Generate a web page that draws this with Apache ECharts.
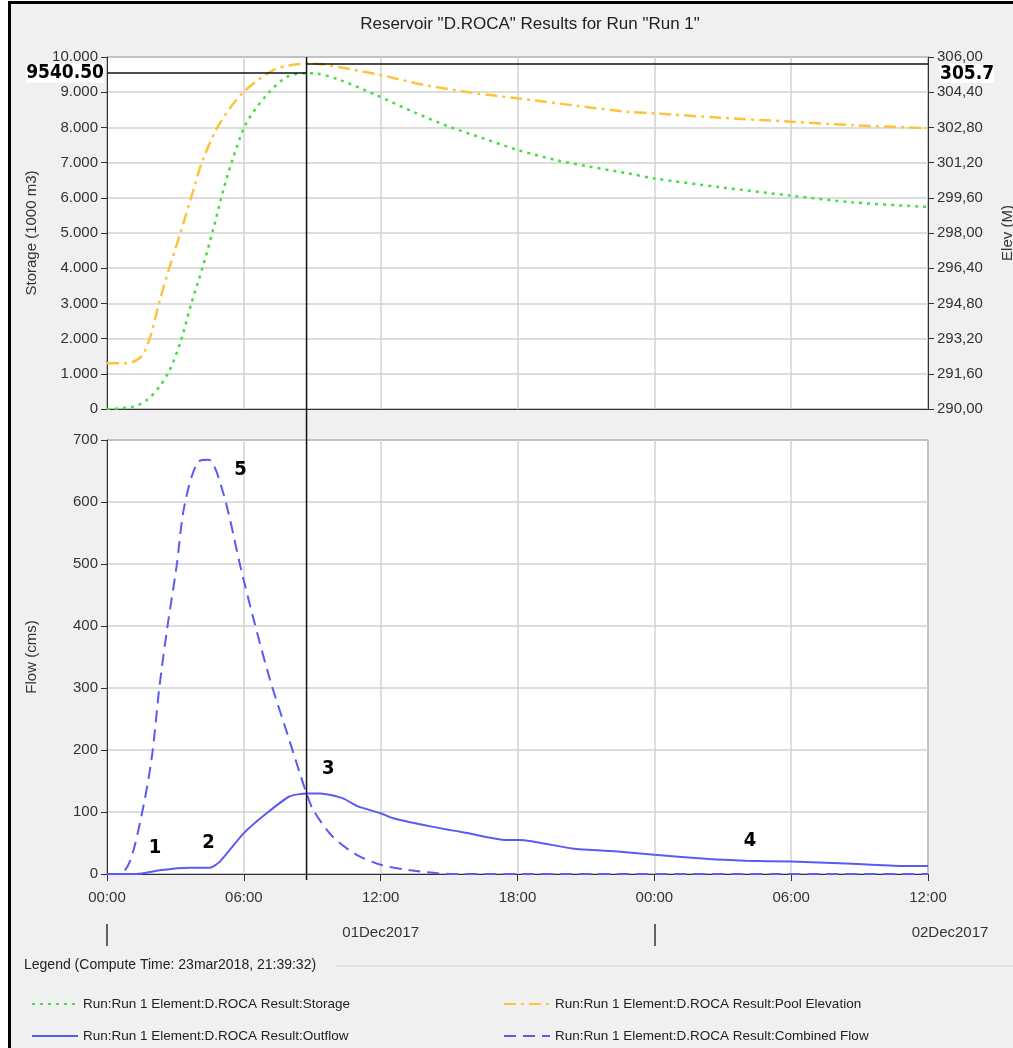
<!DOCTYPE html>
<html>
<head>
<meta charset="utf-8" />
<title>Reservoir D.ROCA</title>
<style>
  body { margin: 0; background: #fff; }
  #frame {
    position: absolute; left: 8px; top: 1px; width: 1005px; height: 1047px;
    border-left: 3px solid #000; border-top: 3px solid #000;
    background: #f0f0f0; box-sizing: border-box;
  }
  #chartBox { position: absolute; left: 0; top: 0; width: 1013px; height: 1048px; }
</style>
</head>
<body>
<div id="frame"></div>
<div id="chartBox"></div>
<script src="https://cdn.jsdelivr.net/npm/echarts@6/dist/echarts.min.js"></script>
<script>
// hours since 01Dec2017 00:00
var storageHours = [0, 1.15, 1.75, 2.3, 2.75, 3.25, 3.7, 4.2, 4.65, 5.1, 5.55, 6.1, 7.0, 7.9, 8.75, 9.2, 10.2, 11.8, 13.4, 15.0, 16.5, 18.0, 19.7, 21.2, 22.8, 24.0, 26.9, 30.0, 32.7, 36.0];
var storageVals  = [0, 65, 256, 634, 1108, 1960, 3000, 4040, 5085, 6220, 7170, 8110, 8920, 9440, 9540.5, 9530, 9350, 8920, 8450, 8020, 7690, 7360, 7070, 6880, 6700, 6550, 6300, 6060, 5870, 5740];

var elevHours = [0, 0.85, 1.5, 1.9, 2.3, 2.75, 3.25, 3.7, 4.2, 4.95, 6.0, 7.3, 8.0, 8.75, 9.5, 12.0, 13.9, 16.0, 18.0, 19.7, 22.8, 24.0, 26.9, 30.0, 32.7, 36.0];
var elevVals  = [292.08, 292.08, 292.38, 293.29, 294.88, 296.47, 298.1, 299.65, 301.32, 302.99, 304.42, 305.41, 305.62, 305.7, 305.66, 305.18, 304.73, 304.38, 304.12, 303.9, 303.51, 303.44, 303.24, 303.06, 302.9, 302.76];

var outHours = [0, 1.3, 2.3, 3.6, 4.5, 4.95, 6.0, 7.0, 8.0, 8.75, 9.35, 10.35, 11.0, 12.0, 12.55, 14.3, 15.8, 17.5, 18.1, 20.4, 22.5, 24.0, 26.4, 28.0, 30.0, 32.4, 34.9, 36.0];
var outVals  = [0, 0, 6, 10, 10, 20, 66, 98, 125, 130, 130, 122, 109, 98, 90, 76, 66, 55, 55, 41, 36, 31, 24, 21.5, 20, 17, 13, 13];

var inHours = [0, 0.55, 1.0, 1.5, 1.95, 2.3, 2.65, 3.05, 3.4, 4.0, 4.45, 5.1, 5.85, 6.4, 7.15, 7.9, 8.45, 8.75, 9.05, 9.9, 10.95, 12.0, 13.3, 15.2, 36.0];
var inVals  = [0, 0, 20, 92, 184, 302, 399, 496, 595, 665, 668, 614, 496, 415, 313, 227, 163, 130, 103, 60, 31, 15, 6, 0, 0];

// cursor readout
var crossHour = 8.75;
var crossStorage = 9540.5;
var crossElev = 305.7;

// numbered notes on the flow plot
var noteText  = ['1', '2', '3', '4', '5'];
var noteHours = [2.1, 4.45, 9.7, 28.2, 5.85];
var noteFlows = [42, 51, 169, 53, 652];

var dayTicks = [0, 24];
var dayLabelHours = [12, 36];
var dayLabels = ['01Dec2017', '02Dec2017'];

var seriesNames = [
  'Run:Run 1 Element:D.ROCA Result:Storage',
  'Run:Run 1 Element:D.ROCA Result:Pool Elevation',
  'Run:Run 1 Element:D.ROCA Result:Outflow',
  'Run:Run 1 Element:D.ROCA Result:Combined Flow'
];

var FONT = "'Liberation Sans', Arial, sans-serif";
var NARROW = "'Liberation Sans Narrow', 'DejaVu Sans Condensed', sans-serif";

function pairs(xs, ys) {
  var out = [];
  for (var i = 0; i < xs.length; i++) out.push([xs[i], ys[i]]);
  return out;
}
function hhmm(v) {
  var h = v % 24;
  return (h < 10 ? '0' : '') + h + ':00';
}

var axisText = { color: '#333', fontSize: 15, fontFamily: FONT };
var gridLine = { show: true, lineStyle: { color: '#d2d2d2', width: 1.5 } };
var darkLine = { show: true, lineStyle: { color: '#333', width: 1 } };

var notes = [];
for (var i = 0; i < noteText.length; i++) {
  notes.push({ coord: [noteHours[i], noteFlows[i]], value: noteText[i] });
}

var myChart = echarts.init(document.getElementById('chartBox'));
var option = {
  animation: false,
  title: {
    text: 'Reservoir "D.ROCA" Results for Run "Run 1"',
    left: 525, top: 11, textAlign: 'center',
    textStyle: { fontFamily: FONT, fontSize: 17, fontWeight: 'normal', color: '#222' }
  },
  grid: [
    { left: 107, right: 85, top: 57, height: 352, show: true, backgroundColor: '#fff',
      borderColor: '#333', borderWidth: 1, outerBoundsMode: 'none', containLabel: false },
    { left: 107, right: 85, top: 440, height: 434, show: true, backgroundColor: '#fff',
      borderColor: '#333', borderWidth: 1, outerBoundsMode: 'none', containLabel: false }
  ],
  xAxis: [
    { type: 'value', gridIndex: 0, min: 0, max: 36, interval: 6,
      axisLine: darkLine, axisTick: { show: false }, axisLabel: { show: false }, splitLine: gridLine },
    { type: 'value', gridIndex: 1, min: 0, max: 36, interval: 6,
      axisLine: darkLine, axisTick: { show: true, length: 7, lineStyle: { color: '#333' } },
      axisLabel: Object.assign({ margin: 16, formatter: hhmm }, axisText), splitLine: gridLine },
    { type: 'value', gridIndex: 1, min: 0, max: 36, position: 'bottom', offset: 50,
      axisLine: { show: false }, splitLine: { show: false },
      axisTick: { show: true, customValues: dayTicks, length: 22, lineStyle: { color: '#333', width: 1.5 } },
      axisLabel: Object.assign({
        margin: 1, customValues: dayLabelHours,
        formatter: function (v) {
          var s = dayLabels[dayLabelHours.indexOf(v)];
          return v === 36 ? '{r|' + s + '}' : s;
        },
        rich: { r: { padding: [0, 0, 0, 44], color: '#333', fontSize: 15, fontFamily: FONT } }
      }, axisText) }
  ],
  yAxis: [
    { type: 'value', gridIndex: 0, min: 0, max: 10000, interval: 1000,
      name: 'Storage (1000 m3)', nameLocation: 'middle', nameGap: 68,
      nameTextStyle: { color: '#333', fontSize: 15, fontFamily: FONT },
      axisLine: darkLine, axisTick: { show: true, length: 6, lineStyle: { color: '#333' } },
      axisLabel: Object.assign({ margin: 9, formatter: function (v) {
        return v >= 1000 ? Math.floor(v / 1000) + '.000' : String(v);
      } }, axisText),
      splitLine: gridLine },
    { type: 'value', gridIndex: 0, min: 290, max: 306, interval: 1.6, position: 'right',
      name: 'Elev (M)', nameLocation: 'middle', nameGap: 72, nameRotate: 90,
      nameTextStyle: { color: '#333', fontSize: 15, fontFamily: FONT },
      axisLine: darkLine, axisTick: { show: true, length: 6, lineStyle: { color: '#333' } },
      axisLabel: Object.assign({ margin: 9, formatter: function (v) {
        return v.toFixed(2).replace('.', ',');
      } }, axisText),
      splitLine: { show: false } },
    { type: 'value', gridIndex: 1, min: 0, max: 700, interval: 100,
      name: 'Flow (cms)', nameLocation: 'middle', nameGap: 68,
      nameTextStyle: { color: '#333', fontSize: 15, fontFamily: FONT },
      axisLine: darkLine, axisTick: { show: true, length: 6, lineStyle: { color: '#333' } },
      axisLabel: Object.assign({ margin: 9 }, axisText),
      splitLine: gridLine }
  ],
  legend: [
    { orient: 'vertical', left: 26, top: 992, itemWidth: 46, itemHeight: 14, itemGap: 18,
      itemStyle: { opacity: 0 },
      data: [seriesNames[0], seriesNames[2]],
      textStyle: { color: '#222', fontSize: 13.5, fontFamily: FONT } },
    { orient: 'vertical', left: 498, top: 992, itemWidth: 46, itemHeight: 14, itemGap: 18,
      itemStyle: { opacity: 0 },
      data: [seriesNames[1], seriesNames[3]],
      textStyle: { color: '#222', fontSize: 13.5, fontFamily: FONT } }
  ],
  graphic: [
    { type: 'text', left: 24, top: 958,
      style: { text: 'Legend (Compute Time: 23mar2018, 21:39:32)', fill: '#222', font: '14px ' + FONT } },
    { type: 'line', shape: { x1: 335, y1: 966, x2: 1013, y2: 966 },
      style: { stroke: '#d6d6d6', lineWidth: 1 } }
  ],
  series: [
    { name: seriesNames[0], type: 'line', xAxisIndex: 0, yAxisIndex: 0, symbol: 'none',
      data: pairs(storageHours, storageVals), smooth: 0.3,
      lineStyle: { color: '#44dd44', width: 2.5, type: [3, 5] }, itemStyle: { color: '#44dd44' },
      markLine: { silent: true, symbol: ['none', 'none'],
        lineStyle: { color: '#111', width: 1.5, type: 'solid' },
        label: { show: true, position: 'start', formatter: '9540.50', color: '#000',
          fontSize: 19, fontWeight: 'bold', fontFamily: NARROW, backgroundColor: '#fff', distance: 3 },
        data: [[{ coord: [0, crossStorage] }, { coord: [crossHour, crossStorage] }]] } },
    { name: seriesNames[1], type: 'line', xAxisIndex: 0, yAxisIndex: 1, symbol: 'none',
      data: pairs(elevHours, elevVals), smooth: 0.3,
      lineStyle: { color: '#fcc43c', width: 2.5, type: [12, 5, 3, 5] }, itemStyle: { color: '#fcc43c' },
      markLine: { silent: true, symbol: ['none', 'none'],
        lineStyle: { color: '#111', width: 1.5, type: 'solid' },
        label: { show: true, position: 'end', formatter: '305.7', color: '#000',
          fontSize: 19, fontWeight: 'bold', fontFamily: NARROW, backgroundColor: '#fff', distance: 12, offset: [0, 10] },
        data: [[{ coord: [crossHour, crossElev] }, { coord: [36, crossElev] }]] } },
    { name: seriesNames[2], type: 'line', xAxisIndex: 1, yAxisIndex: 2, symbol: 'none',
      data: pairs(outHours, outVals), smooth: 0.2,
      lineStyle: { color: '#5a5af5', width: 2, type: 'solid' }, itemStyle: { color: '#5a5af5' },
      markPoint: { symbol: 'circle', symbolSize: 1, itemStyle: { color: 'rgba(0,0,0,0)' },
        label: { show: true, position: 'inside', formatter: '{c}', color: '#000',
          fontSize: 20, fontWeight: 'bold', fontFamily: NARROW },
        data: notes } },
    { name: seriesNames[3], type: 'line', xAxisIndex: 1, yAxisIndex: 2, symbol: 'none',
      data: pairs(inHours, inVals), smooth: 0.3,
      lineStyle: { color: '#5a5af5', width: 2, type: [12, 7] }, itemStyle: { color: '#5a5af5' } }
  ]
};
myChart.setOption(option);

// cursor line through both plots
var pTop = myChart.convertToPixel({ gridIndex: 0 }, [crossHour, 10000]);
var pBot = myChart.convertToPixel({ gridIndex: 1 }, [crossHour, 0]);
myChart.setOption({
  graphic: option.graphic.concat([
    { type: 'line', z: 50, shape: { x1: pTop[0], y1: pTop[1], x2: pTop[0], y2: pBot[1] + 6 },
      style: { stroke: '#111', lineWidth: 1.5 } }
  ])
});
</script>
</body>
</html>
